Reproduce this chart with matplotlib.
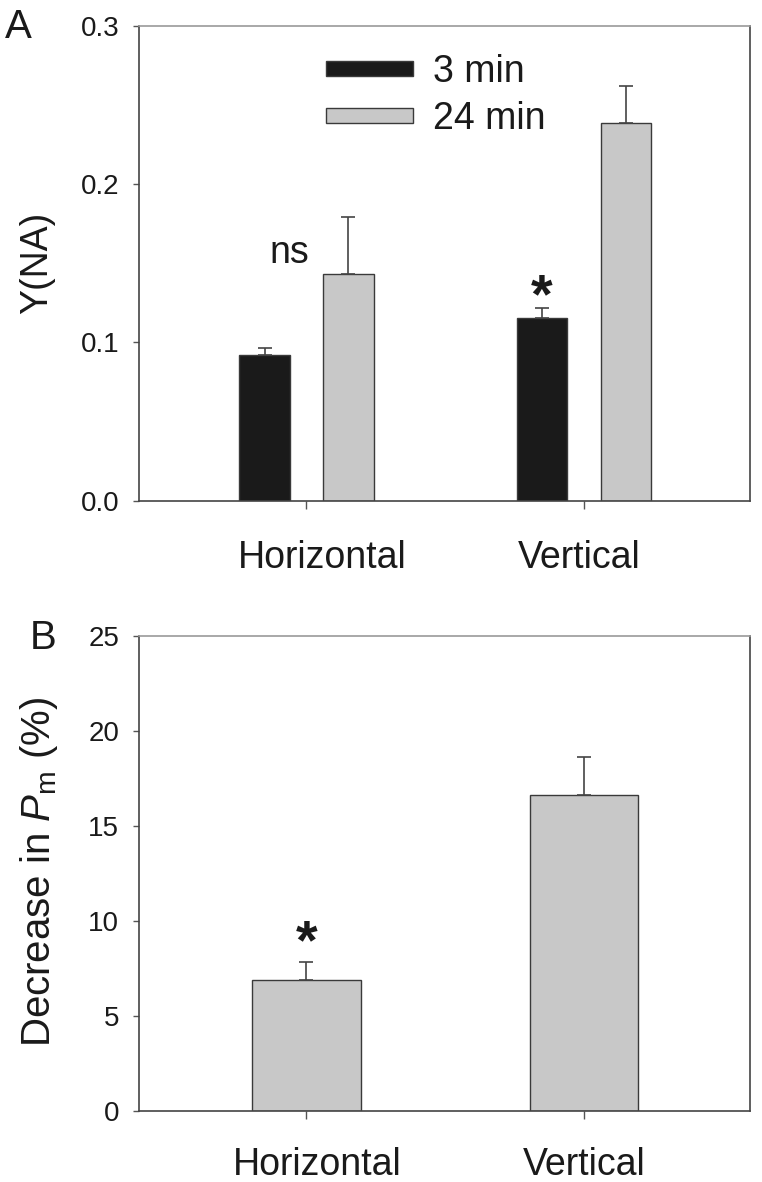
import numpy as np
import matplotlib
matplotlib.use("Agg")
import matplotlib.pyplot as plt
from matplotlib.transforms import ScaledTranslation

plt.rcParams["font.family"] = ["Liberation Sans", "DejaVu Sans"]
plt.rcParams["mathtext.fontset"] = "custom"
plt.rcParams["mathtext.rm"] = "Liberation Sans"
plt.rcParams["mathtext.it"] = "Liberation Sans:italic"

# --- data ---
categories = ["Horizontal", "Vertical"]
series_names = ["3 min", "24 min"]
yna_3min = [0.092, 0.1156]
yna_3min_err = [0.0046, 0.0059]
yna_24min = [0.1434, 0.2388]
yna_24min_err = [0.0356, 0.0233]
pm_decrease = [6.89, 16.6]
pm_decrease_err = [0.95, 2.02]

TXT = "#1a1a1a"
BLACK = "#1a1a1a"
GRAY = "#c8c8c8"
EDGE = "#3a3a3a"

fig = plt.figure(figsize=(7.62, 11.82), dpi=100)
axA = fig.add_axes([0.1818, 0.5764, 0.8025, 0.4019])
axB = fig.add_axes([0.1818, 0.0603, 0.8025, 0.4018])

x = np.arange(1, len(categories) + 1)
w = 0.182
off = 0.151
err_kw = dict(ecolor="#444444", elinewidth=1.2, capsize=4.7, capthick=1.2)

# --- panel A ---
axA.bar(x - off, yna_3min, w, color=BLACK, edgecolor=EDGE, linewidth=1,
        yerr=[np.zeros(2), yna_3min_err], error_kw=err_kw, label=series_names[0])
axA.bar(x + off, yna_24min, w, color=GRAY, edgecolor=EDGE, linewidth=1,
        yerr=[np.zeros(2), yna_24min_err], error_kw=err_kw, label=series_names[1])
axA.set_xlim(0.395, 2.598)
axA.set_ylim(0, 0.3)
axA.set_yticks([0.0, 0.1, 0.2, 0.3])
axA.set_yticklabels(["0.0", "0.1", "0.2", "0.3"])
axA.set_ylabel("Y(NA)", fontsize=27, color=TXT)
axA.yaxis.set_label_coords(-0.137, 0.5)
axA.text(0.94, 0.1563, "ns", fontsize=27, color=TXT, ha="center", va="center")
axA.text(x[1] - off, 0.119, "*", fontsize=40, fontweight="bold", color=TXT,
         ha="center", va="baseline")
leg = axA.legend(loc="upper left", bbox_to_anchor=(0.307, 0.94), frameon=False,
                 fontsize=27, handlelength=2.3, handleheight=0.25,
                 handletextpad=0.55, labelspacing=0.3, borderpad=0,
                 borderaxespad=0)
for t in leg.get_texts():
    t.set_color(TXT)

# --- panel B ---
axB.bar(x, pm_decrease, 0.391, color=GRAY, edgecolor=EDGE, linewidth=1,
        yerr=[np.zeros(2), pm_decrease_err], error_kw=err_kw)
axB.set_xlim(0.395, 2.598)
axB.set_ylim(0, 25)
axB.set_yticks([0, 5, 10, 15, 20, 25])
axB.set_ylabel(r"Decrease in $\mathit{P}_{\mathrm{m}}$ (%)", fontsize=29, color=TXT)
axB.yaxis.set_label_coords(-0.128, 0.503)
axB.text(x[0], 8.05, "*", fontsize=40, fontweight="bold", color=TXT,
         ha="center", va="baseline")

label_shift = {axA: (16, -5), axB: (11, 0)}
for ax, pad in ((axA, 22), (axB, 20)):
    ax.set_xticks(x)
    ax.set_xticklabels(categories, fontsize=27, color=TXT)
    ax.tick_params(axis="x", direction="out", length=6, width=1, color="#555555", pad=pad)
    ax.tick_params(axis="y", direction="out", length=4, width=1, color="#555555",
                   labelsize=20, labelcolor=TXT, pad=10)
    for lab, dx in zip(ax.get_xticklabels(), label_shift[ax]):
        lab.set_transform(lab.get_transform() + ScaledTranslation(dx / 100, 0, fig.dpi_scale_trans))
    for s in ("left", "bottom", "right"):
        ax.spines[s].set_color("#444444")
        ax.spines[s].set_linewidth(1.2)
    ax.spines["top"].set_color("#999999")
    ax.spines["top"].set_linewidth(1.2)

fig.text(5 / 762, 1 - 27 / 1182, "A", fontsize=29, color=TXT, ha="left", va="center")
fig.text(30 / 762, 1 - 638 / 1182, "B", fontsize=29, color=TXT, ha="left", va="center")

fig.savefig("out.png", dpi=100, facecolor="white")
